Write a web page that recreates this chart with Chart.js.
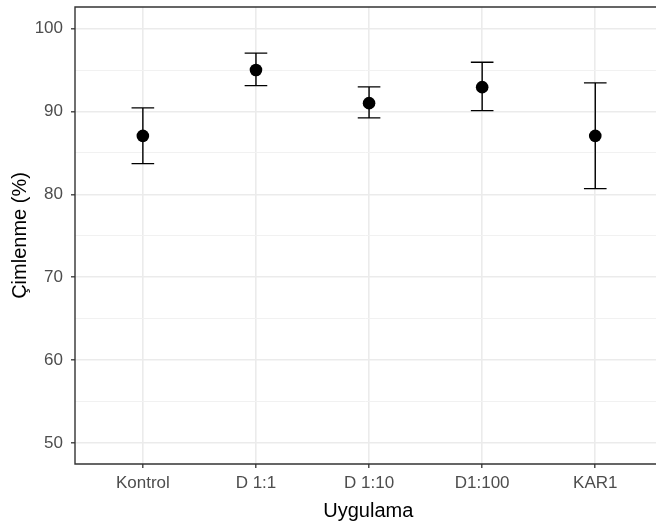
<!DOCTYPE html>
<html>
<head>
<meta charset="utf-8">
<script src="https://cdn.jsdelivr.net/npm/chart.js@4.4.1/dist/chart.umd.min.js"></script>
<style>
html,body{margin:0;padding:0;background:#fff;overflow:hidden;}
#wrap{width:656px;height:523px;}
</style>
</head>
<body>
<div id="wrap"><canvas id="c" width="656" height="523"></canvas></div>
<script>
// ---- data ----
const categories = ['Kontrol', 'D 1:1', 'D 1:10', 'D1:100', 'KAR1'];
const means = [87.05, 95.0, 91.0, 92.93, 87.05];
const lowerErr = [83.71, 93.12, 89.22, 90.10, 80.69];
const upperErr = [90.43, 97.03, 92.96, 95.94, 93.45];
const yTickValues = [50, 55, 60, 65, 70, 75, 80, 85, 90, 95, 100];
const yLabelValues = [50, 60, 70, 80, 90, 100];
const xTitle = ' Uygulama';
const yTitle = 'Çimlenme (%)';

const FONT = "'Liberation Sans', Arial, sans-serif";
Chart.defaults.font.family = FONT;

const errorBars = {
  id: 'errorBars',
  beforeDatasetsDraw(chart) {
    const ctx = chart.ctx, xs = chart.scales.x, ys = chart.scales.y;
    ctx.save();
    ctx.strokeStyle = '#000';
    ctx.lineWidth = 1.4;
    categories.forEach((c, i) => {
      const x = xs.getPixelForValue(i);
      const xl = xs.getPixelForValue(i - 0.1), xr = xs.getPixelForValue(i + 0.1);
      const yl = ys.getPixelForValue(lowerErr[i]), yu = ys.getPixelForValue(upperErr[i]);
      ctx.beginPath();
      ctx.moveTo(x, yu); ctx.lineTo(x, yl);
      ctx.moveTo(xl, yu); ctx.lineTo(xr, yu);
      ctx.moveTo(xl, yl); ctx.lineTo(xr, yl);
      ctx.stroke();
    });
    ctx.restore();
  }
};

// panel border (right side lies beyond the visible image, as in the reference)
const panelBorder = {
  id: 'panelBorder',
  afterDraw(chart) {
    const a = chart.chartArea, ctx = chart.ctx;
    ctx.save();
    ctx.strokeStyle = '#333333';
    ctx.lineWidth = 1.4;
    ctx.beginPath();
    ctx.moveTo(chart.width + 2, a.top);
    ctx.lineTo(a.left, a.top);
    ctx.lineTo(a.left, a.bottom);
    ctx.lineTo(chart.width + 2, a.bottom);
    ctx.stroke();
    ctx.restore();
  }
};

new Chart(document.getElementById('c'), {
  type: 'scatter',
  data: {
    datasets: [{
      data: categories.map((c, i) => ({ x: i, y: means[i] })),
      backgroundColor: '#000',
      borderColor: '#000',
      pointRadius: 6.3,
      pointBorderWidth: 0,
      pointHoverRadius: 6.3
    }]
  },
  options: {
    responsive: false,
    animation: false,
    events: [],
    layout: { autoPadding: false, padding: { top: 7, right: 0, left: 0, bottom: 0 } },
    plugins: { legend: { display: false }, tooltip: { enabled: false } },
    scales: {
      x: {
        type: 'linear',
        min: -0.6, max: 4.537,
        afterBuildTicks(s) { s.ticks = categories.map((c, i) => ({ value: i })); },
        afterFit(s) { s.height = 59; s.paddingLeft = 0; s.paddingRight = 0; },
        ticks: {
          callback: (v) => categories[v] ?? '',
          color: '#4d4d4d',
          font: { size: 17 },
          padding: 5,
          maxRotation: 0, autoSkip: false
        },
        grid: {
          color: '#ebebeb', lineWidth: 1.6,
          tickColor: '#333333', tickLength: 4, tickWidth: 1.3
        },
        border: { display: false },
        title: {
          display: true, text: xTitle, color: '#000',
          font: { size: 20 }, padding: { top: 0, bottom: 0 }
        }
      },
      y: {
        type: 'linear',
        min: 47.47, max: 102.6,
        afterBuildTicks(s) { s.ticks = yTickValues.map(v => ({ value: v })); },
        afterFit(s) { s.width = 75; s.paddingTop = 0; s.paddingBottom = 0; },
        ticks: {
          callback: (v) => yLabelValues.includes(v) ? String(v) : '',
          color: '#4d4d4d',
          font: { size: 17 },
          padding: 8,
          autoSkip: false
        },
        grid: {
          color: (c) => yLabelValues.includes(c.tick && c.tick.value) ? '#ebebeb' : '#f1f1f1',
          lineWidth: (c) => yLabelValues.includes(c.tick && c.tick.value) ? 1.6 : 1,
          tickColor: (c) => yLabelValues.includes(c.tick && c.tick.value) ? '#333333' : 'rgba(0,0,0,0)',
          tickLength: 4, tickWidth: 1.3
        },
        border: { display: false },
        title: {
          display: true, text: yTitle, color: '#000',
          font: { size: 20 }, padding: { top: 8, bottom: 0 }
        }
      }
    }
  },
  plugins: [errorBars, panelBorder]
});
</script>
</body>
</html>
